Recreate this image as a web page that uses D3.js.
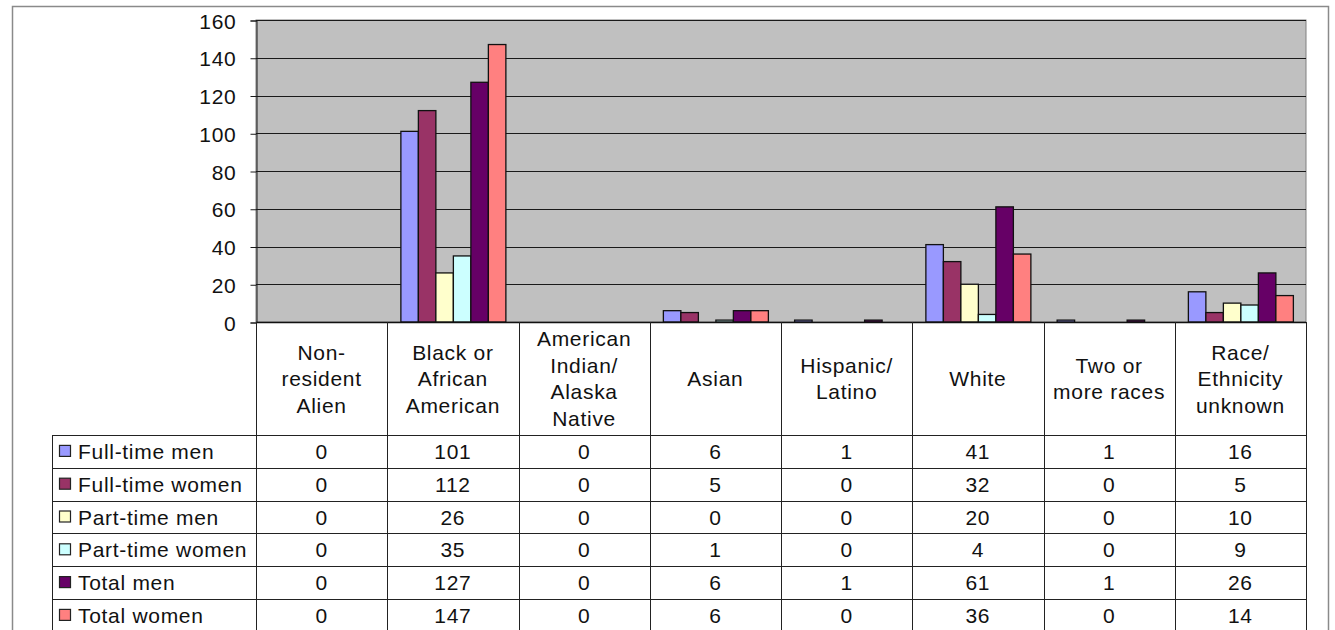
<!DOCTYPE html>
<html>
<head>
<meta charset="utf-8">
<script src="https://cdn.jsdelivr.net/npm/d3@7"></script>
<style>
  html, body { margin: 0; padding: 0; background: #fff; }
  svg { display: block; }
  text { font-family: "Liberation Sans", Arial, sans-serif; fill: #111; letter-spacing: 0.7px; }
</style>
</head>
<body>
<svg id="chart" width="1335" height="630"></svg>
<script>
// ---- data ----
const categories = [
  ["Non-", "resident", "Alien"],
  ["Black or", "African", "American"],
  ["American", "Indian/", "Alaska", "Native"],
  ["Asian"],
  ["Hispanic/", "Latino"],
  ["White"],
  ["Two or", "more races"],
  ["Race/", "Ethnicity", "unknown"]
];
const seriesNames = ["Full-time men", "Full-time women", "Part-time men", "Part-time women", "Total men", "Total women"];
const fullTimeMen    = [0, 101, 0, 6, 1, 41, 1, 16];
const fullTimeWomen  = [0, 112, 0, 5, 0, 32, 0, 5];
const partTimeMen    = [0, 26, 0, 0, 0, 20, 0, 10];
const partTimeWomen  = [0, 35, 0, 1, 0, 4, 0, 9];
const totalMen       = [0, 127, 0, 6, 1, 61, 1, 26];
const totalWomen     = [0, 147, 0, 6, 0, 36, 0, 14];
const seriesValues = [fullTimeMen, fullTimeWomen, partTimeMen, partTimeWomen, totalMen, totalWomen];
const seriesColors = ["#9999FF", "#993366", "#FFFFCC", "#CCFFFF", "#660066", "#FF8080"];
const yTicks = [0, 20, 40, 60, 80, 100, 120, 140, 160];

// ---- layout ----
const svg = d3.select("#chart");
const plotL = 256, plotR = 1306, plotT = 20, plotB = 322;
const headerB = 435, rowH = 32.8, legendL = 52;
const fontSize = 21;

const catIdx = categories.map((d, i) => i);
const x = d3.scaleBand().domain(catIdx).range([plotL, plotR]).padding(0);
const x1 = d3.scaleBand().domain(d3.range(seriesNames.length)).range([0, x.bandwidth()])
  .paddingInner(0).paddingOuter(0.75);
const y = d3.scaleLinear().domain([0, 160]).range([plotB, plotT]);
const rowY = d3.scaleBand().domain(d3.range(seriesNames.length))
  .range([headerB, headerB + rowH * seriesNames.length]).padding(0);

// outer chart border
svg.append("rect").attr("x", 12.5).attr("y", 6.5).attr("width", 1316).attr("height", 640)
  .attr("fill", "#fff").attr("stroke", "#8a8a8a").attr("stroke-width", 1.5);

// plot area
svg.append("rect").attr("x", plotL).attr("y", plotT).attr("width", plotR - plotL).attr("height", plotB - plotT)
  .attr("fill", "#C0C0C0").attr("stroke", "#808080").attr("stroke-width", 1);

// gridlines
svg.append("g").selectAll("line").data(yTicks.filter(t => t > 0)).join("line")
  .attr("x1", plotL).attr("x2", plotR)
  .attr("y1", d => Math.round(y(d)) + 0.5).attr("y2", d => Math.round(y(d)) + 0.5)
  .attr("stroke", "#1a1a1a").attr("stroke-width", 1);

// y axis
const yAxis = d3.axisLeft(y).tickValues(yTicks).tickSize(6).tickPadding(14);
const yg = svg.append("g").attr("transform", `translate(${plotL + 0.5},0.5)`).call(yAxis);
yg.select(".domain").attr("stroke", "#1a1a1a");
yg.selectAll(".tick line").attr("stroke", "#1a1a1a");
yg.selectAll(".tick text").attr("font-size", fontSize).attr("font-family", "\"Liberation Sans\", Arial, sans-serif")
  .attr("fill", "#111").attr("dy", "0.36em");

// bars
const barData = [];
seriesValues.forEach((vals, s) => vals.forEach((v, c) => barData.push({ s, c, v })));
svg.append("g").selectAll("rect").data(barData.filter(d => d.v > 0)).join("rect")
  .attr("x", d => x(d.c) + x1(d.s) + 0.5)
  .attr("y", d => y(d.v))
  .attr("width", x1.bandwidth())
  .attr("height", d => plotB - y(d.v))
  .attr("fill", d => seriesColors[d.s])
  .attr("stroke", "#111").attr("stroke-width", 1.3);

// x axis line
svg.append("line").attr("x1", plotL).attr("x2", plotR).attr("y1", plotB + 0.5).attr("y2", plotB + 0.5)
  .attr("stroke", "#111").attr("stroke-width", 1.5);

// ---- data table ----
const tableB = headerB + rowH * seriesNames.length;
const tg = svg.append("g");
tg.selectAll("line.v").data(catIdx.concat([categories.length])).join("line").attr("class", "v")
  .attr("x1", d => Math.round(d < categories.length ? x(d) : plotR) + 0.5)
  .attr("x2", d => Math.round(d < categories.length ? x(d) : plotR) + 0.5)
  .attr("y1", plotB).attr("y2", tableB)
  .attr("stroke", "#222").attr("stroke-width", 1);
tg.append("line").attr("x1", legendL + 0.5).attr("x2", legendL + 0.5).attr("y1", headerB).attr("y2", tableB)
  .attr("stroke", "#222");
tg.selectAll("line.h").data(d3.range(seriesNames.length + 1)).join("line").attr("class", "h")
  .attr("x1", legendL).attr("x2", plotR)
  .attr("y1", d => Math.round(headerB + d * rowH) + 0.5).attr("y2", d => Math.round(headerB + d * rowH) + 0.5)
  .attr("stroke", "#222");

// header labels
const lineH = 26.5;
const headerMid = (plotB + headerB) / 2;
categories.forEach((lines, c) => {
  const t = tg.append("text").attr("text-anchor", "middle").attr("font-size", fontSize);
  const y0 = headerMid - (lines.length - 1) * lineH / 2;
  lines.forEach((ln, i) => {
    t.append("tspan").attr("x", x(c) + x.bandwidth() / 2).attr("y", y0 + i * lineH).attr("dy", "0.36em").text(ln);
  });
});

// rows
seriesNames.forEach((name, s) => {
  const cy = rowY(s) + rowY.bandwidth() / 2;
  tg.append("rect").attr("x", 59.5).attr("y", cy - 6).attr("width", 11).attr("height", 11)
    .attr("fill", seriesColors[s]).attr("stroke", "#222").attr("stroke-width", 1.2);
  tg.append("text").attr("x", 78).attr("y", cy).attr("dy", "0.36em").attr("font-size", fontSize).text(name);
  seriesValues[s].forEach((v, c) => {
    tg.append("text").attr("x", x(c) + x.bandwidth() / 2).attr("y", cy).attr("dy", "0.36em")
      .attr("text-anchor", "middle").attr("font-size", fontSize).text(v);
  });
});
</script>
</body>
</html>
